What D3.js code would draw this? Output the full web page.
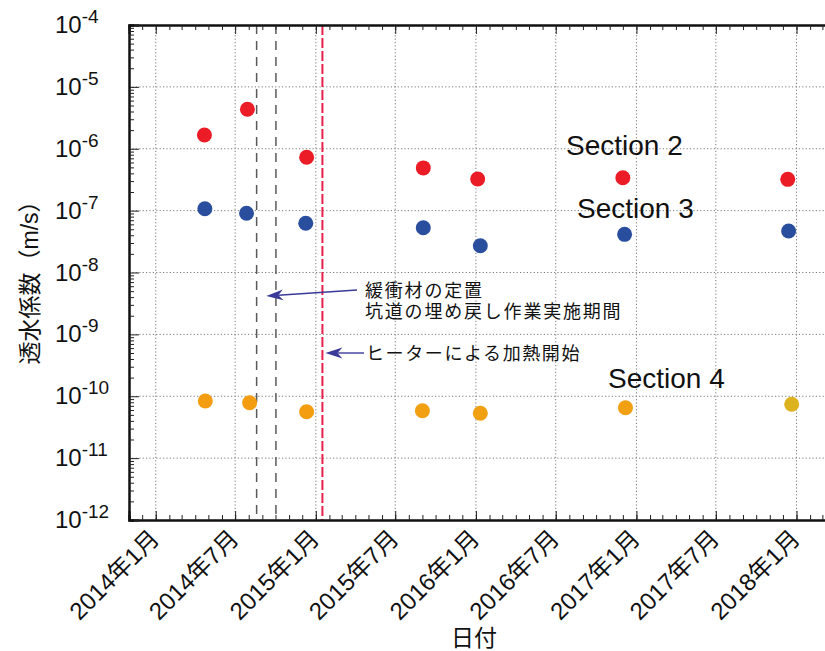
<!DOCTYPE html>
<html lang="ja">
<head>
<meta charset="utf-8">
<script src="https://cdn.jsdelivr.net/npm/d3@7"></script>
<style>
  html, body { margin: 0; padding: 0; background: #fff; }
  svg { display: block; }
  text { font-family: "Liberation Sans", Arial, "Noto Sans CJK JP", sans-serif; fill: #111; }
</style>
</head>
<body>
<svg id="chart" width="825" height="651"></svg>
<script>
// ---- data ----
const section2Dates = ["2014-04-22","2014-07-29","2014-12-11","2015-09-03","2016-01-05","2016-12-01","2017-12-12"];
const section2Values = [1.67e-6, 4.34e-6, 7.3e-7, 4.9e-7, 3.24e-7, 3.4e-7, 3.2e-7];
const section3Dates = ["2014-04-23","2014-07-27","2014-12-09","2015-09-03","2016-01-11","2016-12-05","2017-12-14"];
const section3Values = [1.07e-7, 9.06e-8, 6.24e-8, 5.3e-8, 2.71e-8, 4.14e-8, 4.69e-8];
const section4Dates = ["2014-04-24","2014-08-03","2014-12-11","2015-09-01","2016-01-11","2016-12-07","2017-12-21"];
const section4Values = [8.38e-11, 7.87e-11, 5.62e-11, 5.84e-11, 5.3e-11, 6.53e-11, 7.41e-11];
const section4Colors = ["#f59d10","#f59d10","#f59d10","#f0a010","#f0a010","#f0a010","#dcb21e"];
const seriesNames = ["Section 2", "Section 3", "Section 4"];
const eventDates = ["2014-08-19", "2014-10-02", "2015-01-16"];
const yTickExponents = [-4, -5, -6, -7, -8, -9, -10, -11, -12];
const xDomain = ["2013-11-01", "2018-04-01"];
const yDomain = [1e-12, 1e-4];
const annotationLines1 = ["緩衝材の定置", "坑道の埋め戻し作業実施期間"];
const annotationText2 = "ヒーターによる加熱開始";
const yTitle = "透水係数（m/s）";
const xTitle = "日付";

// ---- layout ----
const svg = d3.select("#chart");
const pLeft = 129, pTop = 25, pBottom = 520, pRight = 836;
const parse = d3.utcParse("%Y-%m-%d");
const x = d3.scaleUtc().domain(xDomain.map(parse)).range([pLeft, pRight]);
const y = d3.scaleLog().domain(yDomain).range([pBottom, pTop]);

const gridColor = "#7a7a7a";
const majorX = d3.utcMonth.every(6).range(parse("2014-01-01"), parse("2018-04-01"));
const minorX = d3.utcMonth.every(1).range(parse("2013-11-01"), parse("2018-04-02"));
const decades = yTickExponents.map(e => Math.pow(10, e));
const minorY = [];
for (let e = -12; e < -4; e++) for (let k = 2; k <= 9; k++) minorY.push(k * Math.pow(10, e));

// gridlines
svg.append("g").selectAll("line").data(majorX).join("line")
  .attr("x1", d => x(d)).attr("x2", d => x(d))
  .attr("y1", pTop).attr("y2", pBottom)
  .attr("stroke", gridColor).attr("stroke-width", 1).attr("stroke-dasharray", "1.2,2.2");
svg.append("g").selectAll("line").data(decades.slice(1, -1)).join("line")
  .attr("x1", pLeft).attr("x2", pRight)
  .attr("y1", d => y(d)).attr("y2", d => y(d))
  .attr("stroke", gridColor).attr("stroke-width", 1).attr("stroke-dasharray", "1.2,2.2");

// event lines
svg.append("g").selectAll("line").data(eventDates.map(parse)).join("line")
  .attr("x1", d => x(d)).attr("x2", d => x(d))
  .attr("y1", pTop).attr("y2", pBottom)
  .attr("stroke", (d, i) => i === 2 ? "#e8204c" : "#5a5a5a")
  .attr("stroke-width", (d, i) => i === 2 ? 2 : 1.5)
  .attr("stroke-dasharray", (d, i) => i === 2 ? "10,3" : "9,7");

// axes (ticks inward)
const axBottomMajor = svg.append("g").attr("transform", `translate(0,${pBottom})`)
  .call(d3.axisBottom(x).tickValues(majorX).tickSize(-9).tickFormat(""));
const axBottomMinor = svg.append("g").attr("transform", `translate(0,${pBottom})`)
  .call(d3.axisBottom(x).tickValues(minorX).tickSize(-5).tickFormat(""));
const axTopMajor = svg.append("g").attr("transform", `translate(0,${pTop})`)
  .call(d3.axisTop(x).tickValues(majorX).tickSize(-9).tickFormat(""));
const axTopMinor = svg.append("g").attr("transform", `translate(0,${pTop})`)
  .call(d3.axisTop(x).tickValues(minorX).tickSize(-5).tickFormat(""));
const axLeftMajor = svg.append("g").attr("transform", `translate(${pLeft},0)`)
  .call(d3.axisLeft(y).tickValues(decades).tickSize(-10).tickFormat(""));
const axLeftMinor = svg.append("g").attr("transform", `translate(${pLeft},0)`)
  .call(d3.axisLeft(y).tickValues(minorY).tickSize(-5).tickFormat(""));
[axBottomMajor, axBottomMinor, axTopMajor, axTopMinor, axLeftMajor, axLeftMinor].forEach(g => {
  g.selectAll("path.domain").attr("stroke", "#111").attr("stroke-width", 2);
  g.selectAll(".tick line").attr("stroke", "#222").attr("stroke-width", 1);
});

// y tick labels 10^n
const yl = svg.append("g");
decades.forEach((d, i) => {
  const t = yl.append("text").attr("x", 55).attr("y", y(d) + 8).attr("font-size", 24);
  t.append("tspan").text("10");
  t.append("tspan").attr("font-size", 19).attr("dy", -10).text(String(yTickExponents[i]));
});

// x tick labels, rotated
const fmt = d => `${d.getUTCFullYear()}年${d.getUTCMonth() + 1}月`;
svg.append("g").selectAll("text").data(majorX).join("text")
  .attr("transform", d => `translate(${x(d) + 5},${pBottom + 20}) rotate(-45)`)
  .attr("text-anchor", "end").attr("font-size", 24)
  .text(fmt);

// axis titles
svg.append("text")
  .attr("transform", `translate(38,277) rotate(-90)`)
  .attr("text-anchor", "middle").attr("font-size", 23).text(yTitle);
svg.append("text")
  .attr("x", 474).attr("y", 646).attr("text-anchor", "middle").attr("font-size", 23).text(xTitle);

// points
const series = [
  { dates: section2Dates, values: section2Values, color: () => "#ec1c27" },
  { dates: section3Dates, values: section3Values, color: () => "#2a4e9e" },
  { dates: section4Dates, values: section4Values, color: (d, i) => section4Colors[i] }
];
series.forEach(s => {
  svg.append("g").selectAll("circle").data(s.values).join("circle")
    .attr("cx", (d, i) => x(parse(s.dates[i])))
    .attr("cy", d => y(d))
    .attr("r", 7.5)
    .attr("fill", (d, i) => s.color(d, i));
});

// series labels
const labelPos = [[566, 155], [577, 218], [608, 388]];
seriesNames.forEach((n, i) => {
  svg.append("text").attr("x", labelPos[i][0]).attr("y", labelPos[i][1])
    .attr("font-size", 28).text(n);
});

// annotations with arrows
const arrowColor = "#3a3a98";
function arrow(x0, y0, x1, y1) {
  const ang = Math.atan2(y1 - y0, x1 - x0);
  const L = 17, W = 5.5, notch = 12;
  const ca = Math.cos(ang), sa = Math.sin(ang);
  const pt = (a, b) => [x1 - a * ca + b * sa, y1 - a * sa - b * ca];
  const pts = [[x1, y1], pt(L, W), pt(notch, 0), pt(L, -W)];
  const [nx, ny] = pt(notch, 0);
  svg.append("line").attr("x1", x0).attr("y1", y0).attr("x2", nx).attr("y2", ny)
    .attr("stroke", arrowColor).attr("stroke-width", 1.4);
  svg.append("path").attr("d", "M" + pts.map(p => p.join(",")).join("L") + "Z").attr("fill", arrowColor);
}
const midEvent = (x(parse(eventDates[0])) + x(parse(eventDates[1]))) / 2;
arrow(357, 290, midEvent, 296);
arrow(364, 353, x(parse(eventDates[2])) + 3, 353);

annotationLines1.forEach((t, i) => {
  svg.append("text").attr("x", 365).attr("y", 297 + i * 20.5)
    .attr("font-size", 18).attr("letter-spacing", 1.8).text(t);
});
svg.append("text").attr("x", 366).attr("y", 360)
  .attr("font-size", 18).attr("letter-spacing", 1.6).text(annotationText2);
</script>
</body>
</html>
